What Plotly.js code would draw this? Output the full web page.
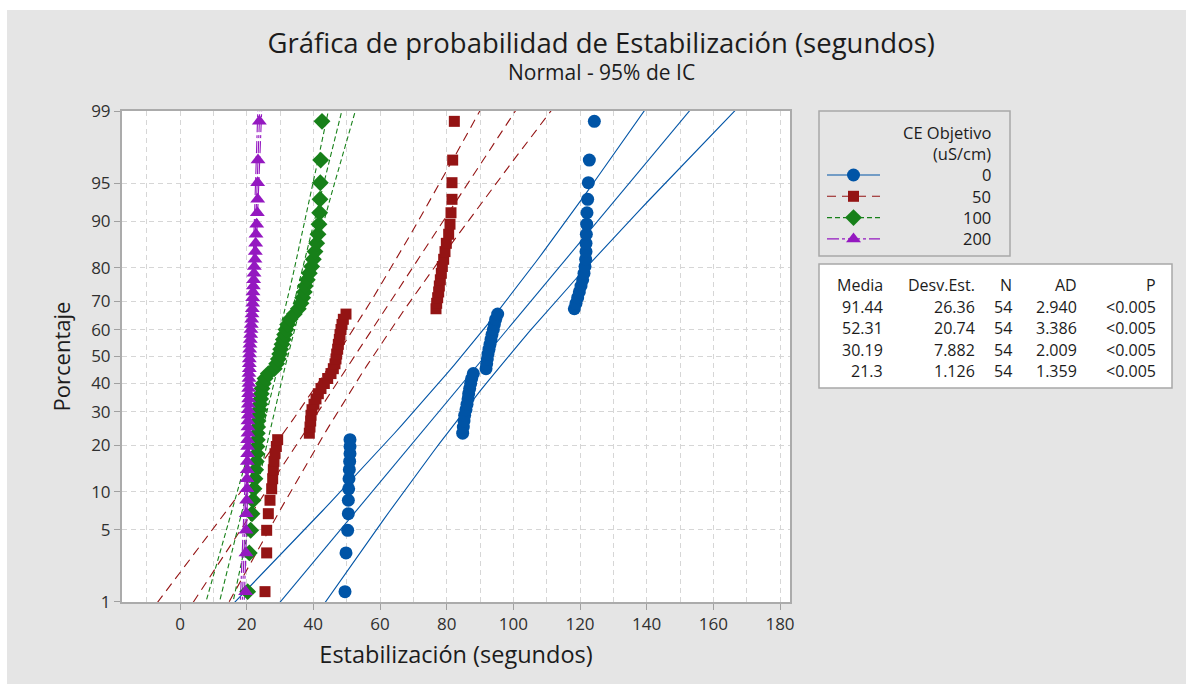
<!DOCTYPE html>
<html><head><meta charset="utf-8">
<script src="https://cdn.plot.ly/plotly-3.0.1.min.js"></script>
<style>
html,body{margin:0;padding:0;background:#fff;}
#chart{position:absolute;left:7px;top:10px;width:1179px;height:674px;}
</style></head><body><div id="chart"></div>
<script>
// ---------------- data ----------------
const groups = ['0', '50', '100', '200'];
const vals0 = [49.5, 49.8, 50.3, 50.5, 50.5, 50.6, 50.7, 50.8, 50.9, 51.0, 51.0, 51.0,
  84.8, 85.0, 85.2, 85.4, 85.8, 86.1, 86.4, 86.6, 86.9, 87.2, 87.5, 88.0,
  91.8, 92.0, 92.2, 92.4, 92.7, 93.0, 93.3, 93.6, 94.0, 94.3, 94.7, 95.3,
  118.3, 118.8, 119.3, 119.8, 120.3, 120.8, 121.2, 121.5, 121.7, 121.8, 121.8, 121.9, 122.0, 122.1, 122.3, 122.5, 122.8, 124.3];
const vals50 = [25.5, 26.0, 26.0, 26.5, 27.0, 27.5, 27.8, 28.0, 28.2, 28.5, 28.9, 29.3,
  38.8, 39.0, 39.2, 39.3, 39.6, 40.2, 40.8, 41.5, 42.3, 43.3, 44.3, 45.3, 46.0, 46.5, 46.8, 47.0, 47.3, 47.5, 47.8, 48.0, 48.3, 48.6, 49.0, 49.8,
  76.8, 77.0, 77.3, 77.6, 77.8, 78.1, 78.4, 78.7, 79.1, 79.5, 79.9, 80.6, 81.0, 81.3, 81.6, 81.6, 81.8, 82.3];
const vals100 = [20.3, 20.8, 21.2, 21.6, 21.9, 22.2, 22.5, 22.7, 22.9, 23.0, 23.1, 23.2, 23.2, 23.3, 23.4, 23.6, 23.8, 24.0, 24.2, 24.4, 24.6, 25.0,
  25.5, 26.5, 28.3, 29.0, 29.5, 29.9, 30.2, 30.6, 31.0, 31.4, 31.8, 32.3, 33.0, 34.3, 35.5, 36.3, 36.8, 37.3, 37.6, 38.2,
  38.8, 39.5, 40.0, 40.5, 41.0, 41.4, 41.7, 41.9, 42.0, 42.1, 42.2, 42.6];
const vals200 = [19.7, 19.8, 19.8, 19.9, 20.0, 20.1, 20.1, 20.2, 20.2, 20.3, 20.3, 20.3, 20.4, 20.4, 20.4, 20.5, 20.5, 20.5,
  20.6, 20.6, 20.6, 20.7, 20.7, 20.7, 20.8, 20.8, 20.8, 20.9, 20.9, 21.0, 21.1, 21.2, 21.3, 21.4, 21.5, 21.6,
  21.7, 21.8, 21.8, 21.9, 22.0, 22.1, 22.2, 22.3, 22.5, 22.6, 22.7, 22.8, 23.0, 23.2, 23.3, 23.3, 23.4, 23.8];
const percentTicks = [1, 5, 10, 20, 30, 40, 50, 60, 70, 80, 90, 95, 99];
const xTicks = [0, 20, 40, 60, 80, 100, 120, 140, 160, 180];
const media = [91.44, 52.31, 30.19, 21.3];
const desvEst = [26.36, 20.74, 7.882, 1.126];
const nObs = [54, 54, 54, 54];
const adStat = [2.940, 3.386, 2.009, 1.359];
const pValue = ['<0.005', '<0.005', '<0.005', '<0.005'];
const tableHeader = ['Media', 'Desv.Est.', 'N', 'AD', 'P'];
const legendTitle = ['CE Objetivo', '(uS/cm)'];
const titleText = 'Gráfica de probabilidad de Estabilización (segundos)';
const subtitleText = 'Normal - 95% de IC';

// ---------------- styles ----------------
const series = [vals0, vals50, vals100, vals200];
const colors = ['#0054A6', '#941414', '#178019', '#9418C0'];
const symbols = ['circle', 'square', 'diamond', 'triangle-up'];
const msizes = [13, 11, 13, 13];
const dashes = ['solid', '9px,6px', '5px,3px', '12px,3px,3px,3px'];
const FONT = 'Open Sans, Noto Sans, sans-serif';
const TXT = '#1c1c1c';

function invNorm(p) {
  const a = [-3.969683028665376e+01, 2.209460984245205e+02, -2.759285104469687e+02, 1.383577518672690e+02, -3.066479806614716e+01, 2.506628277459239e+00];
  const b = [-5.447609879822406e+01, 1.615858368580409e+02, -1.556989798598866e+02, 6.680131188771972e+01, -1.328068155288572e+01];
  const c = [-7.784894002430293e-03, -3.223964580411365e-01, -2.400758277161838e+00, -2.549732539343734e+00, 4.374664141464968e+00, 2.938163982698783e+00];
  const d = [7.784695709041462e-03, 3.224671290700398e-01, 2.445134137142996e+00, 3.754408661907416e+00];
  const pl = 0.02425, ph = 1 - pl; let q, r;
  if (p < pl) { q = Math.sqrt(-2 * Math.log(p)); return (((((c[0]*q+c[1])*q+c[2])*q+c[3])*q+c[4])*q+c[5]) / ((((d[0]*q+d[1])*q+d[2])*q+d[3])*q+1); }
  if (p > ph) { q = Math.sqrt(-2 * Math.log(1 - p)); return -(((((c[0]*q+c[1])*q+c[2])*q+c[3])*q+c[4])*q+c[5]) / ((((d[0]*q+d[1])*q+d[2])*q+d[3])*q+1); }
  q = p - 0.5; r = q * q;
  return (((((a[0]*r+a[1])*r+a[2])*r+a[3])*r+a[4])*r+a[5])*q / (((((b[0]*r+b[1])*r+b[2])*r+b[3])*r+b[4])*r+1);
}

// page-pixel -> paper helpers (div offset 7,10; margins l115 r5 t101 b82)
const PW = 1059, PH = 491;
const px = x => (x - 122) / PW;
const py = y => (602 - y) / PH;

const traces = [];
// fitted lines + 95% CI bands
const zGrid = [];
for (let k = 0; k <= 60; k++) zGrid.push(-2.45 + 4.9 * k / 60);
groups.forEach((g, gi) => {
  const m = media[gi], s = desvEst[gi], n = nObs[gi];
  const se = zGrid.map(z => 1.96 * s * Math.sqrt(1 / n + z * z / (2 * n)));
  const fit = zGrid.map(z => m + s * z);
  [fit.map((v, i) => v - se[i]), fit, fit.map((v, i) => v + se[i])].forEach(xs => {
    traces.push({x: xs, y: zGrid, mode: 'lines', type: 'scatter', xaxis: 'x', yaxis: 'y',
      line: {color: colors[gi], width: 1.1, dash: dashes[gi]}, hoverinfo: 'skip', showlegend: false});
  });
});
// points (median-rank plotting positions)
groups.forEach((g, gi) => {
  const v = series[gi].slice().sort((a, b) => a - b);
  const n = v.length;
  const ys = v.map((_, i) => invNorm((i + 1 - 0.3) / (n + 0.4)));
  traces.push({x: v, y: ys, mode: 'markers', type: 'scatter', xaxis: 'x', yaxis: 'y', name: g,
    marker: {color: colors[gi], symbol: symbols[gi], size: msizes[gi], opacity: 1, line: {width: 0}}, showlegend: false});
});
// legend samples on an auxiliary axis pair
groups.forEach((g, gi) => {
  traces.push({x: [0, 1], y: [gi, gi], xaxis: 'x2', yaxis: 'y2', mode: 'lines', type: 'scatter',
    line: {color: colors[gi], width: 1.1, dash: dashes[gi]}, hoverinfo: 'skip', showlegend: false});
  traces.push({x: [0.5], y: [gi], xaxis: 'x2', yaxis: 'y2', mode: 'markers', type: 'scatter',
    marker: {color: colors[gi], symbol: symbols[gi], size: msizes[gi], opacity: 1, line: {width: 0}},
    hoverinfo: 'skip', showlegend: false, cliponaxis: false});
});

const LEG_Y0 = 175, LEG_DY = 21.3;
const LFS = 16.5, TFS = 16;
const annotations = [];
annotations.push({xref: 'paper', yref: 'paper', x: px(601), y: py(72), xanchor: 'center', yanchor: 'middle',
  text: subtitleText, showarrow: false, font: {family: FONT, size: 21, color: TXT}});
legendTitle.forEach((t, i) => annotations.push({xref: 'paper', yref: 'paper', x: px(993), y: py(132 + i * 21), xanchor: 'right', yanchor: 'middle',
  text: t, showarrow: false, font: {family: FONT, size: LFS, color: TXT}}));
groups.forEach((g, gi) => annotations.push({xref: 'paper', yref: 'paper', x: px(993), y: py(LEG_Y0 + gi * LEG_DY), xanchor: 'right', yanchor: 'middle',
  text: g, showarrow: false, font: {family: FONT, size: LFS, color: TXT}}));
const colRight = [885, 977, 1014, 1079, 1158];
const ROW0 = 285, ROWDY = 21.5;
tableHeader.forEach((h, ci) => annotations.push({xref: 'paper', yref: 'paper', x: px(colRight[ci]), y: py(ROW0), xanchor: 'right', yanchor: 'middle',
  text: h, showarrow: false, font: {family: FONT, size: TFS, color: TXT}}));
groups.forEach((g, gi) => {
  const cells = [String(media[gi]), String(desvEst[gi]), String(nObs[gi]), adStat[gi].toFixed(3), pValue[gi].replace('<', '&lt;')];
  cells.forEach((c, ci) => annotations.push({xref: 'paper', yref: 'paper', x: px(colRight[ci]), y: py(ROW0 + (gi + 1) * ROWDY), xanchor: 'right', yanchor: 'middle',
    text: c, showarrow: false, font: {family: FONT, size: TFS, color: TXT}}));
});

const gridStyle = {gridcolor: '#D6D6D6', griddash: '5px,4px', gridwidth: 1};
const layout = {
  width: 1179, height: 674,
  margin: {l: 115, r: 5, t: 101, b: 82},
  paper_bgcolor: '#E5E5E5', plot_bgcolor: 'rgba(0,0,0,0)',
  font: {family: FONT, color: TXT},
  title: {text: titleText, xref: 'container', yref: 'container', x: 0.504, xanchor: 'center', y: 1 - 33 / 674, yanchor: 'middle',
    font: {family: FONT, size: 27.5, color: TXT}, automargin: false},
  xaxis: Object.assign({domain: [0, px(790)], range: [-17.4, 183], tickvals: xTicks, ticktext: xTicks.map(String),
    ticks: 'outside', ticklen: 6, tickcolor: '#A0A0A0', showline: true, linecolor: '#ABABAB', linewidth: 2, mirror: true,
    zeroline: false, showgrid: true, tickfont: {family: FONT, size: 17, color: '#303030'},
    minor: {dtick: 10, tick0: 0, showgrid: true, gridcolor: '#D6D6D6', griddash: '5px,4px', gridwidth: 1, ticks: ''},
    title: {text: 'Estabilización (segundos)', standoff: 12, font: {family: FONT, size: 23.5, color: TXT}}, fixedrange: true, anchor: 'y'}, gridStyle),
  yaxis: Object.assign({domain: [0, 1], range: [invNorm(0.01) - 0.002, invNorm(0.99) + 0.002],
    tickvals: percentTicks.map(p => invNorm(p / 100)), ticktext: percentTicks.map(String),
    ticks: 'outside', ticklen: 6, tickcolor: '#A0A0A0', showline: true, linecolor: '#ABABAB', linewidth: 2, mirror: true,
    zeroline: false, showgrid: true, tickfont: {family: FONT, size: 17, color: '#303030'},
    title: {text: 'Porcentaje', standoff: 14, font: {family: FONT, size: 22, color: TXT}}, fixedrange: true, anchor: 'x'}, gridStyle),
  xaxis2: {domain: [px(827), px(880)], range: [0, 1], visible: false, anchor: 'y2', fixedrange: true},
  yaxis2: {domain: [py(LEG_Y0 + 3.5 * LEG_DY), py(LEG_Y0 - 0.5 * LEG_DY)], range: [3.5, -0.5], visible: false, anchor: 'x2', fixedrange: true},
  shapes: [
    {type: 'rect', xref: 'x domain', yref: 'y domain', x0: 0, x1: 1, y0: 0, y1: 1,
      line: {width: 0}, fillcolor: '#FFFFFF', layer: 'below'},
    {type: 'rect', xref: 'paper', yref: 'paper', x0: px(819), x1: px(1010), y0: py(256), y1: py(111),
      line: {color: '#A8A8A8', width: 1.5}, fillcolor: 'rgba(0,0,0,0)', layer: 'below'},
    {type: 'rect', xref: 'paper', yref: 'paper', x0: px(819), x1: px(1172), y0: py(388), y1: py(264),
      line: {color: '#A8A8A8', width: 1.5}, fillcolor: '#FFFFFF', layer: 'below'}
  ],
  annotations: annotations,
  showlegend: false
};
Plotly.newPlot('chart', traces, layout, {displayModeBar: false, staticPlot: true});
</script></body></html>
